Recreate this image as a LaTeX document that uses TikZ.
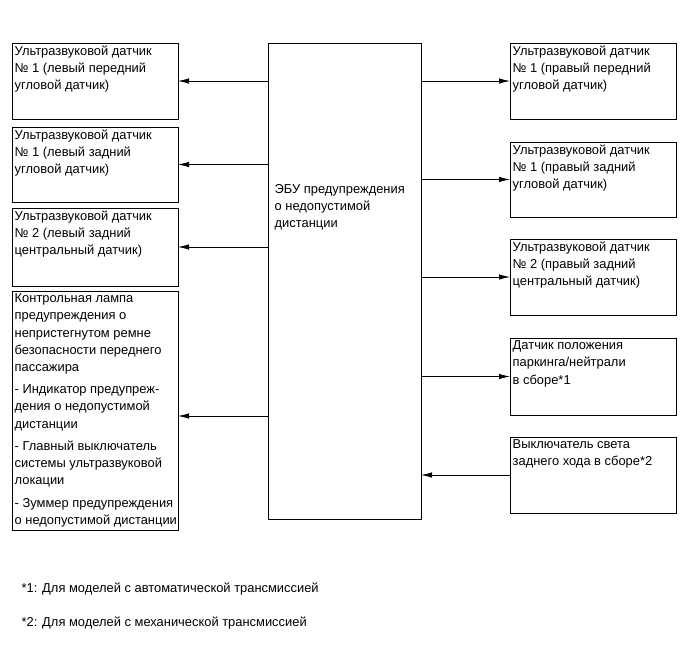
\documentclass[tikz,border=0pt]{standalone}
\usepackage{fontspec}
\setmainfont{Liberation Sans}
\usetikzlibrary{arrows.meta,positioning}

\begin{document}
\begin{tikzpicture}[x=1pt,y=-1pt,
  blk/.style={draw,line width=0.8pt,minimum width=166pt,minimum height=76pt,anchor=north west,outer sep=0pt,inner sep=0pt},
  txt/.style={anchor=north west,align=left,inner xsep=2.5pt,inner ysep=2.8pt,font=\fontsize{12.9}{17.1}\selectfont},
  lnk/.style={-{Latex[length=11pt,width=5.5pt]},line width=0.8pt}]
  \useasboundingbox (0,0) rectangle (690,660);
  % left column
  \node[blk] (l1) at (12,43) {};
  \node[blk,minimum height=75pt] (l2) at (12,127) {};
  \node[blk,minimum height=78pt] (l3) at (12,208) {};
  \node[blk,minimum height=239pt] (l4) at (12,291) {};
  \node[txt] (l1t) at (l1.north west) {Ультразвуковой датчик\\№ 1 (левый передний\\угловой датчик)};
  \node[txt] (l2t) at (l2.north west) {Ультразвуковой датчик\\№ 1 (левый задний\\угловой датчик)};
  \node[txt] (l3t) at (l3.north west) {Ультразвуковой датчик\\№ 2 (левый задний\\центральный датчик)};
  \node[txt] (l4t) at (l4.north west) {Контрольная лампа\\предупреждения о\\непристегнутом ремне\\безопасности переднего\\пассажира\\[5.5pt]
    - Индикатор предупреж-\\дения о недопустимой\\дистанции\\[5.5pt]
    - Главный выключатель\\системы ультразвуковой\\локации\\[5.5pt]
    - Зуммер предупреждения\\о недопустимой дистанции};
  % ECU
  \node[blk,minimum width=153pt,minimum height=476pt] (ecu) at (268,43) {};
  \node[txt] (ecut) at (272,181) {ЭБУ предупреждения\\о недопустимой\\дистанции};
  % right column
  \node[blk] (r1) at (510,43) {};
  \node[blk,minimum height=75pt] (r2) at (510,142) {};
  \node[blk] (r3) at (510,239) {};
  \node[blk,minimum height=77pt] (r4) at (510,338) {};
  \node[blk] (r5) at (510,437) {};
  \node[txt] (r1t) at (r1.north west) {Ультразвуковой датчик\\№ 1 (правый передний\\угловой датчик)};
  \node[txt] (r2t) at (r2.north west) {Ультразвуковой датчик\\№ 1 (правый задний\\угловой датчик)};
  \node[txt] (r3t) at (r3.north west) {Ультразвуковой датчик\\№ 2 (правый задний\\центральный датчик)};
  \node[txt] (r4t) at (r4.north west) {Датчик положения\\паркинга/нейтрали\\в сборе*1};
  \node[txt] (r5t) at (r5.north west) {Выключатель света\\заднего хода в сборе*2};
  % connectors
  \draw[lnk] (ecu.west |- l1.east) -- (l1.east);
  \draw[lnk] (ecu.west |- l2.east) -- (l2.east);
  \draw[lnk] (ecu.west |- l3.east) -- (l3.east);
  \draw[lnk] (ecu.west |- 0,416) -- (l4.east |- 0,416);
  \draw[lnk] (ecu.east |- r1.west) -- (r1.west);
  \draw[lnk] (ecu.east |- r2.west) -- (r2.west);
  \draw[lnk] (ecu.east |- r3.west) -- (r3.west);
  \draw[lnk] (ecu.east |- r4.west) -- (r4.west);
  \draw[lnk] (r5.west) -- (ecu.east |- r5.west);
  % notes
  \node[txt] (fn1) at (19,580) {*1: Для моделей с автоматической трансмиссией};
  \node[txt] (fn2) at (19,614) {*2: Для моделей с механической трансмиссией};
\end{tikzpicture}
\end{document}
